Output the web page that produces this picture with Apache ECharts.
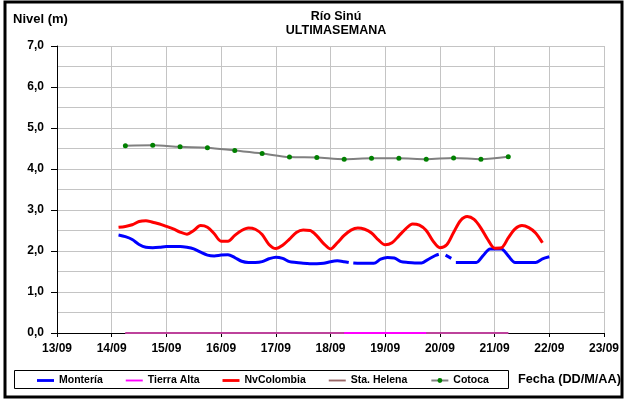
<!DOCTYPE html>
<html>
<head>
<meta charset="utf-8">
<script src="https://cdn.jsdelivr.net/npm/echarts@6/dist/echarts.min.js"></script>
<style>
  html, body { margin: 0; padding: 0; background: #fff; }
  #chart { width: 627px; height: 399px; }
</style>
</head>
<body>
<div id="chart"></div>
<script>
// Day labels along the date axis (x values are hours counted from 13/09 00:00)
const dayLabels = ['13/09', '14/09', '15/09', '16/09', '17/09', '18/09', '19/09', '20/09', '21/09', '22/09', '23/09'];

// Hours counted from 14/09 00:00
const nvColombiaHours = [3, 6, 9, 12, 15, 18, 21, 24, 27, 30, 33, 36, 39, 42, 45, 48, 51, 54, 57, 60, 63, 66, 69, 72, 75, 78, 81, 84, 87, 90, 93, 96, 99, 102, 105, 108, 111, 114, 117, 120, 123, 126, 129, 132, 135, 138, 141, 144, 147, 150, 153, 156, 159, 162, 165, 168, 171, 174, 177, 180, 183, 186, 189];
const nvColombiaLevels = [2.58, 2.60, 2.64, 2.72, 2.74, 2.70, 2.66, 2.60, 2.54, 2.46, 2.41, 2.50, 2.62, 2.58, 2.42, 2.24, 2.24, 2.38, 2.50, 2.56, 2.53, 2.40, 2.16, 2.06, 2.14, 2.29, 2.45, 2.51, 2.50, 2.37, 2.18, 2.05, 2.20, 2.38, 2.51, 2.56, 2.53, 2.44, 2.27, 2.15, 2.20, 2.37, 2.54, 2.66, 2.63, 2.50, 2.24, 2.08, 2.15, 2.45, 2.74, 2.84, 2.77, 2.56, 2.28, 2.07, 2.08, 2.32, 2.54, 2.62, 2.57, 2.44, 2.20];

// null entries are missing readings (the line breaks there)
const monteriaHours = [3, 6, 9, 12, 15, 18, 21, 24, 27, 30, 33, 36, 39, 42, 45, 48, 51, 54, 57, 60, 63, 66, 69, 72, 75, 78, 81, 84, 87, 90, 93, 96, 99, 102, 104, 105, 106, 109, 112, 115, 118, 121, 124, 127, 130, 133, 136, 139, 142, 143.5, 145, 146.5, 149, 150, 151, 154, 157, 160, 163, 166, 169, 171, 174, 177, 180, 183, 186, 189, 192];
const monteriaLevels = [2.39, 2.35, 2.28, 2.16, 2.09, 2.08, 2.09, 2.11, 2.11, 2.11, 2.09, 2.05, 1.97, 1.90, 1.88, 1.90, 1.91, 1.84, 1.75, 1.72, 1.72, 1.74, 1.81, 1.85, 1.82, 1.74, 1.72, 1.70, 1.69, 1.69, 1.70, 1.74, 1.76, 1.74, 1.72, null, 1.71, 1.70, 1.70, 1.70, 1.80, 1.84, 1.83, 1.74, 1.72, 1.71, 1.71, 1.80, 1.89, 1.92, null, 1.90, 1.82, null, 1.72, 1.72, 1.72, 1.72, 1.89, 2.05, 2.05, 2.05, 1.88, 1.72, 1.72, 1.72, 1.72, 1.81, 1.86];

// Twice-daily readings (06:00 and 18:00)
const dailyHours = [6, 18, 30, 42, 54, 66, 78, 90, 102, 114, 126, 138, 150, 162, 174];
const cotocaLevels = [4.57, 4.58, 4.54, 4.52, 4.45, 4.38, 4.29, 4.28, 4.24, 4.26, 4.26, 4.24, 4.27, 4.24, 4.30];
const tierraAltaLevels = [0, 0, 0, 0, 0, 0, 0, 0, 0, 0, 0, 0, 0, 0, 0];
const staHelenaLevels = [0, 0, 0, 0, 0, 0, 0, 0, 0, null, null, 0, 0, 0, 0];

const yTicks = [0, 1, 2, 3, 4, 5, 6, 7];

const FONT = "'Liberation Sans', Arial, sans-serif";

function pairs(hours, values) {
  return hours.map((h, i) => [h + 24, values[i]]);
}

// Plain line swatches for the legend
const thickLine = 'path://M0,0H18V3H0Z';
const thinLine = 'path://M0,0H18V2H0Z';

const chart = echarts.init(document.getElementById('chart'), null, { renderer: 'canvas' });

chart.setOption({
  animation: false,
  backgroundColor: '#ffffff',
  textStyle: { fontFamily: FONT },
  title: {
    text: 'Río Sinú\nULTIMASEMANA',
    left: 331,
    top: 5,
    textAlign: 'center',
    textStyle: { fontFamily: FONT, fontSize: 12.5, fontWeight: 'bold', color: '#000', lineHeight: 14 }
  },
  grid: { left: 57, right: 23, top: 46, bottom: 66, containLabel: false },
  xAxis: {
    type: 'value',
    min: 0,
    max: 240,
    interval: 24,
    axisLine: { show: true, lineStyle: { color: '#000', width: 1 } },
    axisTick: { show: true, length: 4, lineStyle: { color: '#000' } },
    axisLabel: {
      margin: 10,
      fontFamily: FONT, fontSize: 12, fontWeight: 'bold', color: '#000',
      formatter: v => dayLabels[Math.round(v / 24)]
    },
    splitLine: { show: true, lineStyle: { color: '#c4c4c4', width: 1 } }
  },
  yAxis: {
    type: 'value',
    min: yTicks[0],
    max: yTicks[yTicks.length - 1],
    interval: 1,
    axisLine: { show: true, lineStyle: { color: '#000', width: 1 } },
    axisTick: { show: true, length: 6, lineStyle: { color: '#000' } },
    axisLabel: {
      margin: 13,
      fontFamily: FONT, fontSize: 12, fontWeight: 'bold', color: '#000',
      formatter: v => v.toFixed(1).replace('.', ',')
    },
    splitLine: { show: true, lineStyle: { color: '#c4c4c4', width: 1 } },
    minorTick: { show: false, splitNumber: 2 },
    minorSplitLine: { show: true, lineStyle: { color: '#c4c4c4', width: 1 } }
  },
  legend: {
    left: 37,
    top: 375,
    padding: 0,
    itemWidth: 17,
    itemHeight: 6,
    itemGap: 23,
    symbolKeepAspect: true,
    textStyle: { fontFamily: FONT, fontSize: 10.5, fontWeight: 'bold', color: '#000' },
    data: [
      { name: 'Montería', icon: thickLine },
      { name: 'Tierra Alta', icon: thinLine },
      { name: 'NvColombia', icon: thickLine },
      { name: 'Sta. Helena', icon: thinLine },
      { name: 'Cotoca' }
    ]
  },
  graphic: [
    {
      type: 'rect', silent: true, z: 100,
      shape: { x: 5, y: 2, width: 617, height: 395 },
      style: { fill: 'none', stroke: '#000', lineWidth: 3 }
    },
    {
      type: 'rect', silent: true,
      shape: { x: 14.5, y: 370.5, width: 494, height: 18 },
      style: { fill: 'none', stroke: '#000', lineWidth: 1 }
    },
    {
      type: 'text', left: 13, top: 13,
      style: { text: 'Nivel (m)', font: "bold 13px 'Liberation Sans', Arial", fill: '#000' }
    },
    {
      type: 'text', left: 518, top: 373,
      style: { text: 'Fecha (DD/M/AA)', font: "bold 12.7px 'Liberation Sans', Arial", fill: '#000' }
    }
  ],
  series: [
    {
      name: 'Montería', type: 'line', z: 3,
      data: pairs(monteriaHours, monteriaLevels),
      smooth: 0.3, showSymbol: false, symbol: 'none', connectNulls: false,
      lineStyle: { color: '#0000ff', width: 3 },
      itemStyle: { color: '#0000ff' }
    },
    {
      name: 'Tierra Alta', type: 'line', z: 4,
      data: pairs(dailyHours, tierraAltaLevels),
      showSymbol: false, symbol: 'none',
      lineStyle: { color: '#ff00ff', width: 2 },
      itemStyle: { color: '#ff00ff' }
    },
    {
      name: 'NvColombia', type: 'line', z: 5,
      data: pairs(nvColombiaHours, nvColombiaLevels),
      smooth: 0.3, showSymbol: false, symbol: 'none',
      lineStyle: { color: '#ff0000', width: 3 },
      itemStyle: { color: '#ff0000' }
    },
    {
      name: 'Sta. Helena', type: 'line', z: 6,
      data: pairs(dailyHours, staHelenaLevels),
      showSymbol: false, symbol: 'none', connectNulls: false,
      lineStyle: { color: '#996666', width: 2, opacity: 0.65 },
      itemStyle: { color: '#996666' }
    },
    {
      name: 'Cotoca', type: 'line', z: 7,
      data: pairs(dailyHours, cotocaLevels),
      smooth: 0.3, symbol: 'circle', symbolSize: 5, showSymbol: true,
      lineStyle: { color: '#808080', width: 2 },
      itemStyle: { color: '#008000', borderWidth: 0 }
    }
  ]
});
</script>
</body>
</html>
